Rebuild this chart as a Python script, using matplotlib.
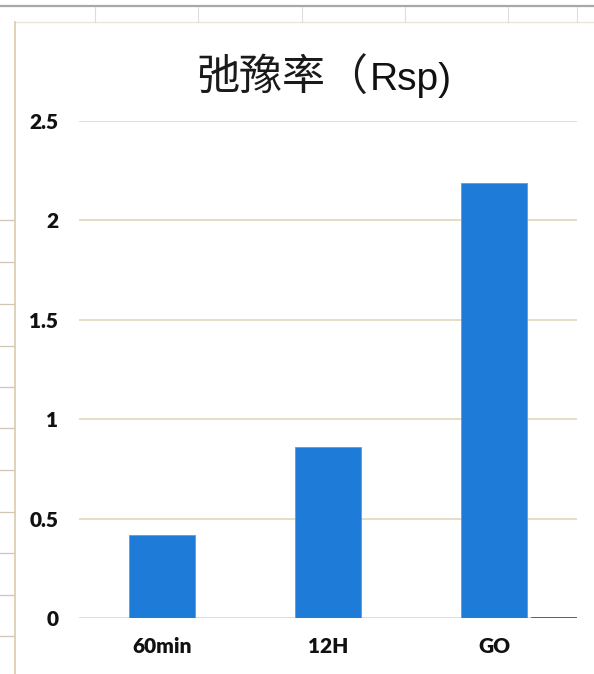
import matplotlib
matplotlib.use("Agg")
import matplotlib.pyplot as plt
from matplotlib.lines import Line2D

categories = ["60min", "12H", "GO"]
values = [0.42, 0.86, 2.19]
y_ticks = [0, 0.5, 1, 1.5, 2, 2.5]
y_tick_labels = ["0", "0.5", "1", "1.5", "2", "2.5"]

W, H = 594, 674
fig = plt.figure(figsize=(W / 100, H / 100), dpi=100)
fig.patch.set_facecolor("white")


def fx(px):
    return px / W


def fy(py):
    return 1 - py / H


def fig_line(x0, y0, x1, y1, color, lw):
    fig.add_artist(Line2D([fx(x0), fx(x1)], [fy(y0), fy(y1)],
                          transform=fig.transFigure, color=color, lw=lw))


# worksheet frame around the embedded chart
fig_line(0, 5.5, W, 5.5, "#a8a8a8", 1.6)
fig_line(14, 22, W, 22, "#ebe6d8", 1.0)
for cx in [95, 198, 302, 405, 508, 577]:
    fig_line(cx, 7, cx, 22, "#dcdcdc", 0.8)
fig_line(14.5, 22, 14.5, H, "#dccbab", 1.2)
for ry in [220, 262, 304, 346, 387, 428, 470, 512, 553, 595, 636]:
    fig_line(0, ry, 14, ry, "#cfc6b4", 0.9)

ax = fig.add_axes([fx(79), fy(618), fx(577) - fx(79), fy(121) - fy(618)])
ax.set_xlim(-0.5, 2.5)
ax.set_ylim(0, 2.5)

ax.set_yticks(y_ticks)
ax.set_yticklabels(y_tick_labels)
ax.grid(axis="y", color="#ddd5b4", lw=1.1)
ax.set_axisbelow(True)

ax.bar(range(len(categories)), values, width=0.4, color="#1f7bd8",
       edgecolor="#4aa2ee", linewidth=0.6, zorder=3)
ax.set_xticks(range(len(categories)))
ax.set_xticklabels(categories)

# dark stub of the baseline at the right end
ax.axhline(0, xmin=0.91, xmax=1.0, color="#4b4b36", lw=1.2, zorder=4)

for s in ax.spines.values():
    s.set_visible(False)
ax.tick_params(axis="both", length=0)
ax.tick_params(axis="y", pad=15)
ax.tick_params(axis="x", pad=14)
for lab in ax.get_xticklabels() + ax.get_yticklabels():
    lab.set_fontfamily("Lato")
    lab.set_fontweight("heavy")
    lab.set_fontsize(15)
    lab.set_color("#111111")

# chart title: CJK part and Latin part
fig.text(fx(368), fy(79), "弛豫率（", ha="right", va="center",
         fontsize=31, fontweight=300,
         family=["Noto Sans CJK SC", "DejaVu Sans"], color="#1a1a1a")
fig.text(fx(370), fy(80), "Rsp)", ha="left", va="center",
         fontsize=28, family="Liberation Sans", color="#111111")

fig.savefig("out.png", dpi=100, facecolor="white")
